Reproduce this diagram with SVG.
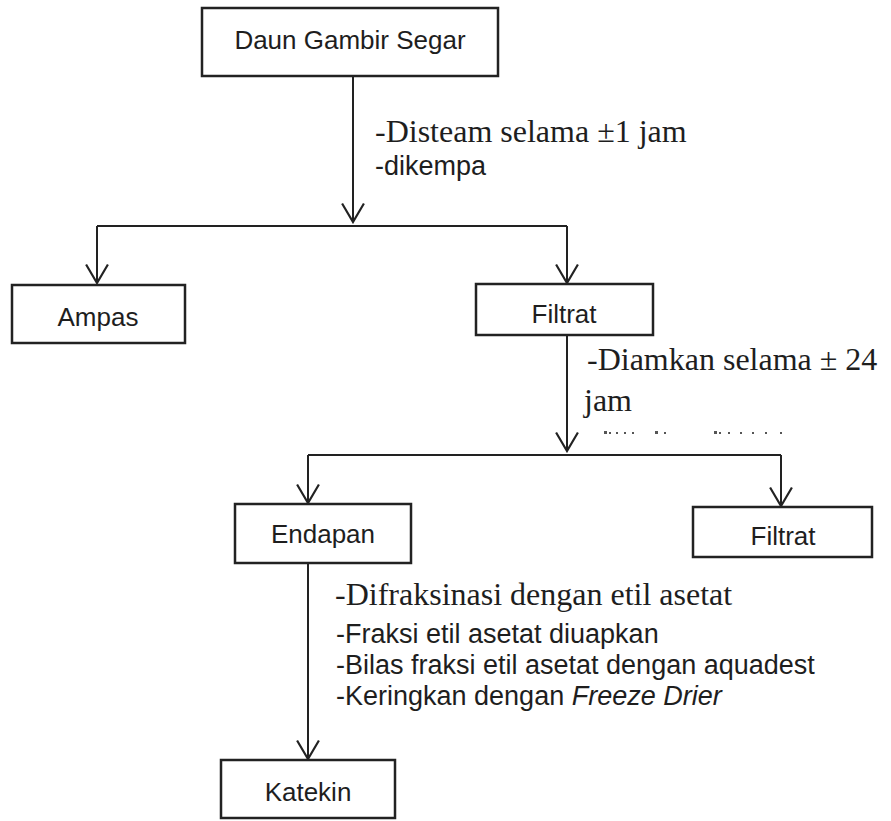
<svg xmlns="http://www.w3.org/2000/svg" width="891" height="821" viewBox="0 0 891 821">
<style>
.box{fill:#fff;stroke:#222;stroke-width:2.5}
.ln{fill:none;stroke:#222;stroke-width:2}
.sans{font-family:"Liberation Sans","Open Sans",sans-serif;fill:#1e1e1e}
.serif{font-family:"Liberation Serif","Times New Roman",serif;fill:#1e1e1e;font-size:32px}
.c{text-anchor:middle}
</style>
<defs>
<marker id="v" markerWidth="22" markerHeight="24" refX="18" refY="11" orient="auto" markerUnits="userSpaceOnUse" viewBox="0 0 20 22">
<polyline points="1,1 18,11 1,21" fill="none" stroke="#222" stroke-width="2"/>
</marker>
</defs>
<rect width="891" height="821" fill="#fff"/>
<g id="connectors">
<polyline class="ln" points="353,76 353,222" marker-end="url(#v)"/>
<polyline class="ln" points="97,226 567,226"/>
<polyline class="ln" points="97,226 97,283" marker-end="url(#v)"/>
<polyline class="ln" points="567,226 567,283" marker-end="url(#v)"/>
<polyline class="ln" points="567,335 567,451" marker-end="url(#v)"/>
<polyline class="ln" points="308,455 781,455"/>
<polyline class="ln" points="308,455 308,503" marker-end="url(#v)"/>
<polyline class="ln" points="781,455 781,506" marker-end="url(#v)"/>
<polyline class="ln" points="308,563 308,759" marker-end="url(#v)"/>
</g>
<g id="daun">
<rect class="box" x="202" y="8" width="296" height="68"/>
<text class="sans c" x="350" y="49" font-size="26">Daun Gambir Segar</text>
</g>
<g id="label1">
<text class="serif" x="375" y="142">-Disteam selama ±1 jam</text>
<text class="sans" x="375" y="175" font-size="27">-dikempa</text>
</g>
<g id="ampas">
<rect class="box" x="12" y="285" width="173" height="58"/>
<text class="sans c" x="98" y="326" font-size="26">Ampas</text>
</g>
<g id="filtrat1">
<rect class="box" x="476" y="284" width="177" height="51"/>
<text class="sans c" x="564" y="323" font-size="26">Filtrat</text>
</g>
<g id="label2">
<text class="serif" x="587" y="370">-Diamkan selama ± 24</text>
<text class="serif" x="584" y="411">jam</text>
<g fill="#555">
<rect x="604" y="431" width="3" height="3"/><rect x="609" y="432" width="2" height="2"/><rect x="616" y="432" width="2" height="2"/><rect x="624" y="432" width="2" height="2"/><rect x="632" y="432" width="2" height="2"/>
<rect x="655" y="431" width="3" height="3"/><rect x="664" y="432" width="2" height="2"/>
<rect x="714" y="431" width="3" height="3"/><rect x="719" y="432" width="2" height="2"/><rect x="728" y="432" width="2" height="2"/><rect x="740" y="432" width="2" height="2"/><rect x="752" y="432" width="2" height="2"/><rect x="765" y="432" width="2" height="2"/><rect x="780" y="432" width="2" height="2"/>
</g>
</g>
<g id="endapan">
<rect class="box" x="235" y="504" width="176" height="59"/>
<text class="sans c" x="323" y="543" font-size="26">Endapan</text>
</g>
<g id="filtrat2">
<rect class="box" x="693" y="507" width="179" height="50"/>
<text class="sans c" x="783" y="545" font-size="26">Filtrat</text>
</g>
<g id="label3">
<text class="serif" x="335" y="605">-Difraksinasi dengan etil asetat</text>
<text class="sans" x="336" y="643" font-size="27">-Fraksi etil asetat diuapkan</text>
<text class="sans" x="336" y="674" font-size="27">-Bilas fraksi etil asetat dengan aquadest</text>
<text class="sans" x="336" y="705" font-size="27">-Keringkan dengan <tspan font-style="italic">Freeze Drier</tspan></text>
</g>
<g id="katekin">
<rect class="box" x="221" y="760" width="174" height="58"/>
<text class="sans c" x="308" y="801" font-size="26">Katekin</text>
</g>
</svg>
